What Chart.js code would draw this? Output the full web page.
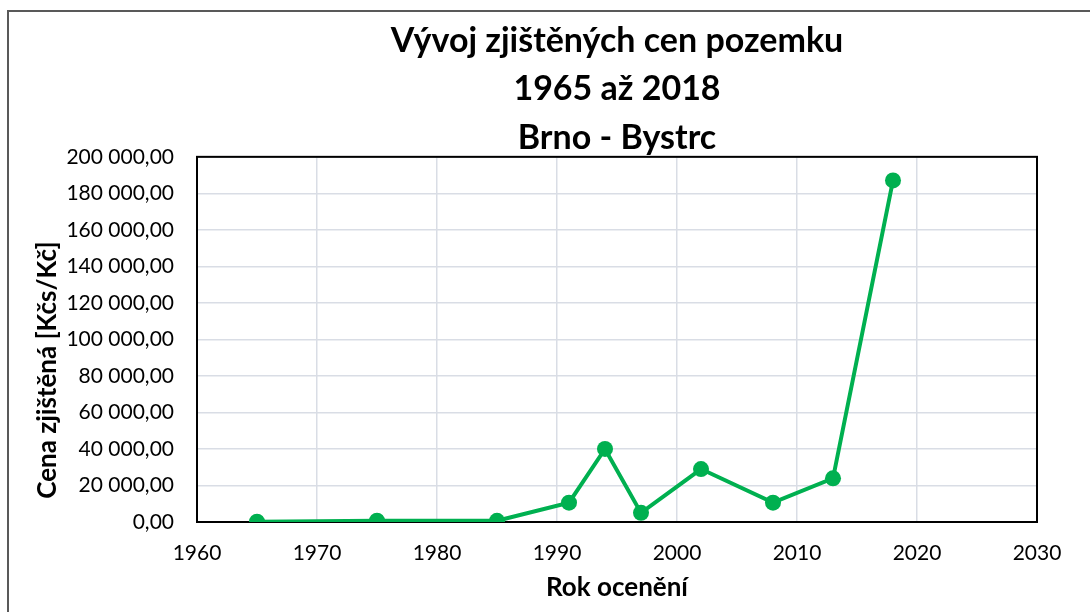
<!DOCTYPE html>
<html>
<head>
<meta charset="utf-8">
<script src="https://cdn.jsdelivr.net/npm/chart.js@4"></script>
<style>
  html, body { margin: 0; padding: 0; background: #fff; overflow: hidden; }
  #wrap { position: relative; width: 1090px; height: 612px; overflow: hidden; }
  #frame { position: absolute; left: 7px; top: 10px; width: 1200px; height: 800px; border: 2px solid #595959; }
  #myChart { position: absolute; left: 0; top: 0; }
</style>
</head>
<body>
<div id="wrap">
  <div id="frame"></div>
  <canvas id="myChart" width="1090" height="612"></canvas>
</div>
<script>
// data
const list_years = [1965, 1975, 1985, 1991, 1994, 1997, 2002, 2008, 2013, 2018];
const list_prices = [150, 700, 650, 10600, 40000, 5000, 29000, 10600, 23900, 187100];
const title_lines = ['Vývoj zjištěných cen pozemku', '1965 až 2018', 'Brno - Bystrc'];
const x_title = 'Rok ocenění';
const y_title = 'Cena zjištěná [Kčs/Kč]';

const FONT = 'Lato, "Open Sans", sans-serif';

function formatCzk(v){
    let s = Math.round(v).toString();
    s = s.replace(/\B(?=(\d{3})+(?!\d))/g, ' ');
    return s + ',00';
}

// border round the plot area + rotated y title
const plotFrame = {
    id: 'plotFrame',
    beforeDatasetsDraw(chart){
        const {ctx, chartArea} = chart;
        ctx.save();
        ctx.strokeStyle = '#000';
        ctx.lineWidth = 2;
        ctx.strokeRect(chartArea.left, chartArea.top, chartArea.right - chartArea.left, chartArea.bottom - chartArea.top);
        ctx.restore();
    },
    afterDraw(chart){
        const ctx = chart.ctx;
        ctx.save();
        ctx.translate(48, 370);
        ctx.rotate(-Math.PI / 2);
        ctx.font = 'bold 26px ' + FONT;
        ctx.fillStyle = '#000';
        ctx.textAlign = 'center';
        ctx.textBaseline = 'middle';
        ctx.fillText(y_title, 0, 0);
        ctx.restore();
    }
};

const ctx = document.getElementById('myChart');
let dash_1 = new Chart(ctx, {
    type: 'line',
    data: {
        datasets: [{
            label: 'cena',
            data: list_years.map((y, i) => ({x: y, y: list_prices[i]})),
            borderColor: '#00b050',
            backgroundColor: '#00b050',
            borderWidth: 4,
            pointRadius: 8,
            pointBorderWidth: 0,
            pointHoverRadius: 8,
            tension: 0
        }]
    },
    options: {
        responsive: false,
        animation: false,
        layout: {
            padding: {top: 17, right: 53, bottom: 0, left: 0}
        },
        plugins: {
            legend: {display: false},
            tooltip: {enabled: false},
            title: {
                display: true,
                text: title_lines,
                fullSize: false,
                color: '#000',
                font: {family: FONT, size: 34, weight: 'bold', lineHeight: 1.42},
                padding: {top: 0, bottom: -5}
            }
        },
        scales: {
            x: {
                type: 'linear',
                min: 1960,
                max: 2030,
                afterFit(scale){ scale.height = 90; },
                ticks: {
                    stepSize: 10,
                    color: '#000',
                    padding: 19,
                    font: {family: FONT, size: 21},
                    callback: (v) => String(v)
                },
                grid: {color: '#d9dde5', lineWidth: 1.5, drawTicks: false},
                border: {display: false},
                title: {
                    display: true,
                    text: x_title,
                    color: '#000',
                    font: {family: FONT, size: 26, weight: 'bold'},
                    padding: {top: 0, bottom: 9}
                }
            },
            y: {
                min: 0,
                max: 200000,
                afterFit(scale){ scale.width = 197; },
                ticks: {
                    stepSize: 20000,
                    color: '#000',
                    padding: 23,
                    font: {family: FONT, size: 21},
                    callback: (v) => formatCzk(v)
                },
                grid: {color: '#d9dde5', lineWidth: 1.5, drawTicks: false},
                border: {display: false}
            }
        }
    },
    plugins: [plotFrame]
});
</script>
</body>
</html>
